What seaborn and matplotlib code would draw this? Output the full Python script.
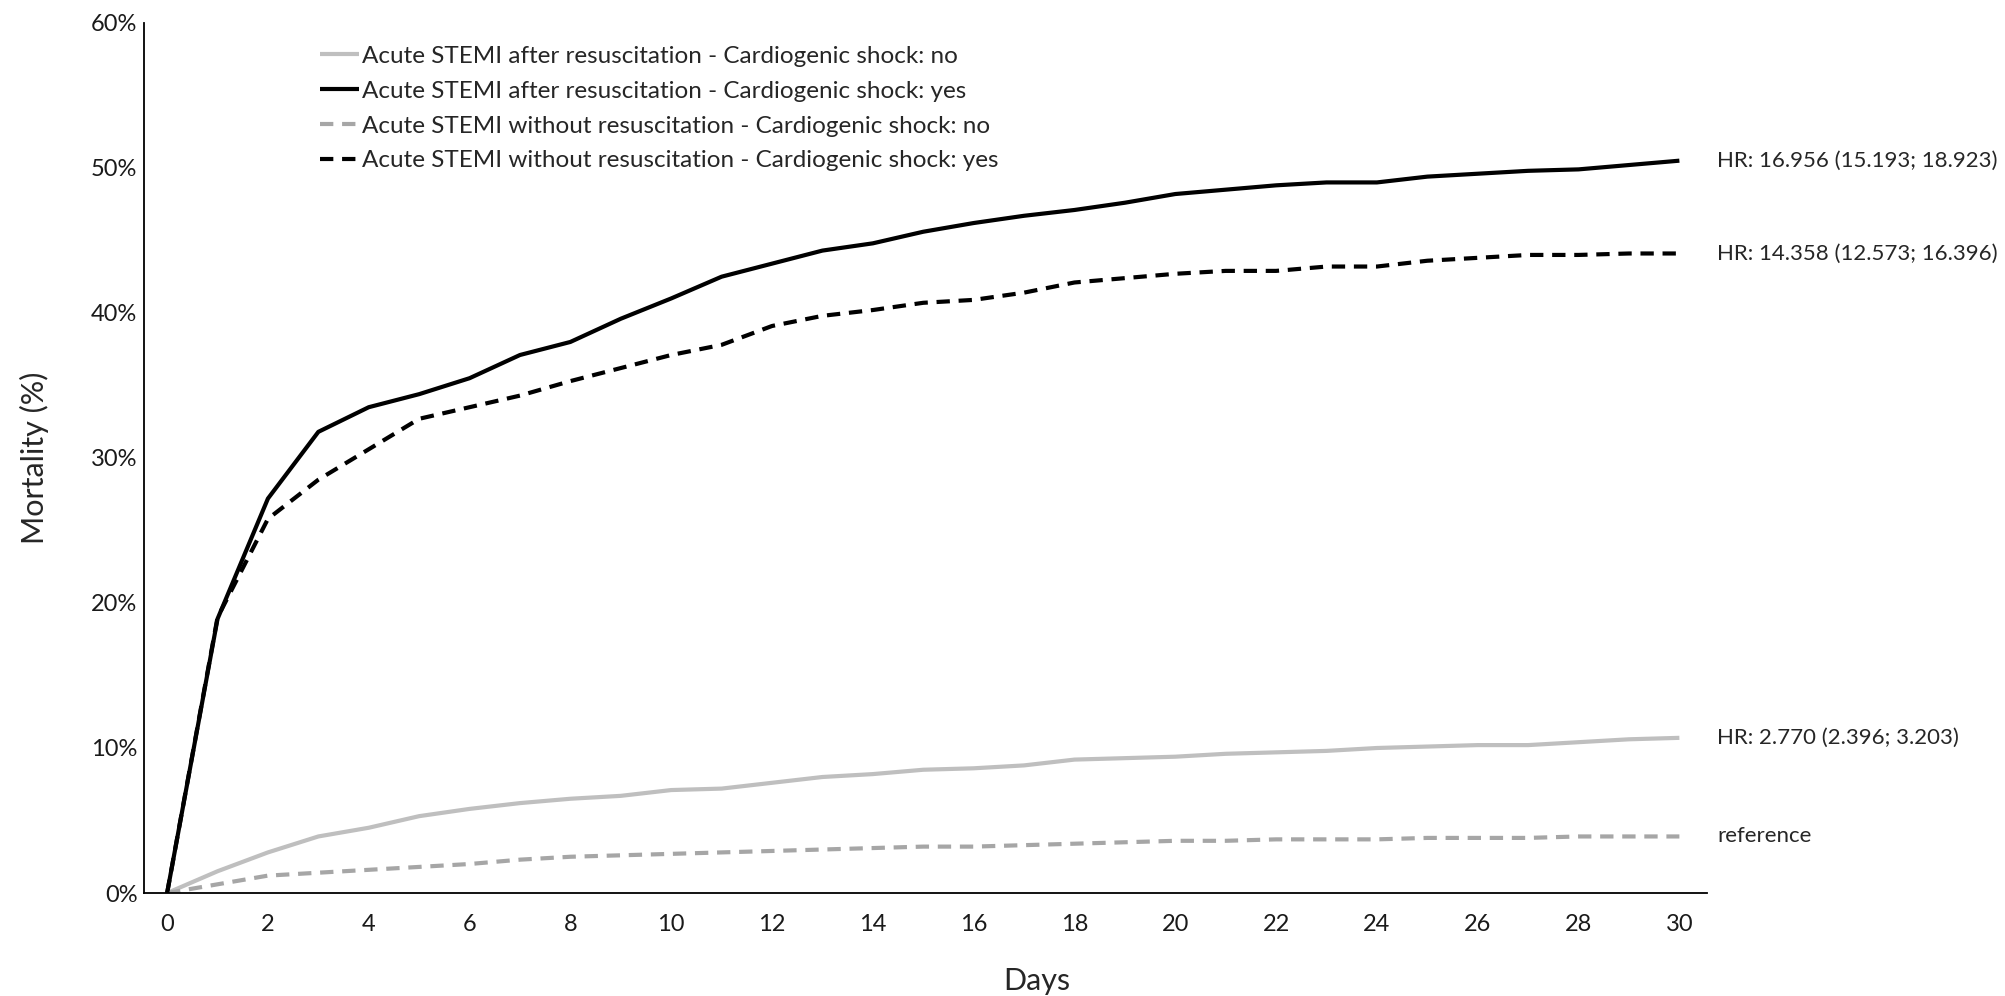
import numpy as np
import pandas as pd
import matplotlib
matplotlib.use("Agg")
import matplotlib.pyplot as plt
import seaborn as sns
from matplotlib.ticker import FuncFormatter

days = list(range(31))

after_resus_shock_no = [0, 1.5, 2.8, 3.9, 4.5, 5.3, 5.8, 6.2, 6.5, 6.7, 7.1, 7.2, 7.6, 8.0, 8.2,
                        8.5, 8.6, 8.8, 9.2, 9.3, 9.4, 9.6, 9.7, 9.8, 10.0, 10.1, 10.2, 10.2, 10.4, 10.6, 10.7]
after_resus_shock_yes = [0, 18.9, 27.2, 31.8, 33.5, 34.4, 35.5, 37.1, 38.0, 39.6, 41.0, 42.5, 43.4, 44.3, 44.8,
                         45.6, 46.2, 46.7, 47.1, 47.6, 48.2, 48.5, 48.8, 49.0, 49.0, 49.4, 49.6, 49.8, 49.9, 50.2, 50.5]
without_resus_shock_no = [0, 0.6, 1.2, 1.4, 1.6, 1.8, 2.0, 2.3, 2.5, 2.6, 2.7, 2.8, 2.9, 3.0, 3.1,
                          3.2, 3.2, 3.3, 3.4, 3.5, 3.6, 3.6, 3.7, 3.7, 3.7, 3.8, 3.8, 3.8, 3.9, 3.9, 3.9]
without_resus_shock_yes = [0, 19.0, 25.8, 28.5, 30.6, 32.7, 33.5, 34.3, 35.3, 36.2, 37.1, 37.8, 39.1, 39.8, 40.2,
                           40.7, 40.9, 41.4, 42.1, 42.4, 42.7, 42.9, 42.9, 43.2, 43.2, 43.6, 43.8, 44.0, 44.0, 44.1, 44.1]

series_names = [
    "Acute STEMI after resuscitation - Cardiogenic shock: no",
    "Acute STEMI after resuscitation - Cardiogenic shock: yes",
    "Acute STEMI without resuscitation - Cardiogenic shock: no",
    "Acute STEMI without resuscitation - Cardiogenic shock: yes",
]
end_labels = [
    "HR: 2.770 (2.396; 3.203)",
    "HR: 16.956 (15.193; 18.923)",
    "reference",
    "HR: 14.358 (12.573; 16.396)",
]
series_values = [after_resus_shock_no, after_resus_shock_yes, without_resus_shock_no, without_resus_shock_yes]

frames = []
for name, vals in zip(series_names, series_values):
    frames.append(pd.DataFrame({"Days": days, "Mortality": vals, "Group": name}))
df = pd.concat(frames, ignore_index=True)

sns.set_theme(style="white")
plt.rcParams["font.family"] = ["Lato", "DejaVu Sans"]

fig = plt.figure(figsize=(20.06, 9.96), dpi=100)
ax = fig.add_axes([0.072, 0.1034, 0.779, 0.8736])

colors = ["#BFBFBF", "#000000", "#A6A6A6", "#000000"]
styles = ["solid", "solid", "dashed", "dashed"]

for name, c, st in zip(series_names, colors, styles):
    sub = df[df["Group"] == name]
    sns.lineplot(data=sub, x="Days", y="Mortality", ax=ax, color=c, linewidth=3.0,
                 label=name, legend=False)
    line = ax.lines[-1]
    if st == "dashed":
        line.set_dashes((3.2, 2.1))
    line.set_solid_capstyle("butt")

ax.set_xlim(-0.45, 30.55)
ax.set_ylim(0, 60)
ax.set_xticks(list(range(0, 31, 2)))
ax.set_yticks(list(range(0, 61, 10)))
ax.yaxis.set_major_formatter(FuncFormatter(lambda v, p: f"{int(v)}%"))
ax.tick_params(axis="both", labelsize=17, colors="#1a1a1a", length=0)
ax.tick_params(axis="y", pad=5)
ax.tick_params(axis="x", pad=15)

for s in ["top", "right"]:
    ax.spines[s].set_visible(False)
for s in ["left", "bottom"]:
    ax.spines[s].set_color("#000000")
    ax.spines[s].set_linewidth(1.3)

ax.set_xlabel("Days", fontsize=22)
ax.set_ylabel("Mortality (%)", fontsize=22, labelpad=30)
ax.xaxis.set_label_coords(0.571, -0.085)

for lab, vals in zip(end_labels, series_values):
    ax.annotate(lab, xy=(days[-1], vals[-1]), xytext=(27, 0), textcoords="offset points",
                fontsize=16, va="center", ha="left", annotation_clip=False)

leg = fig.legend(handles=ax.lines[:4], labels=series_names, loc="upper left",
                 bbox_to_anchor=(0.1595, 0.954), frameon=False, fontsize=17.5,
                 handlelength=1.6, handletextpad=0.15, labelspacing=0.57,
                 borderpad=0, borderaxespad=0)

fig.savefig("out.png", dpi=100)
